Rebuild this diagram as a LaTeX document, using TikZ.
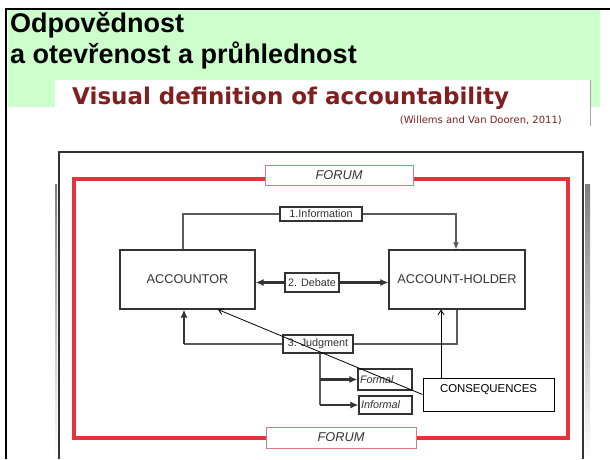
\documentclass[tikz,border=0pt]{standalone}
\usepackage{fontspec}
\setmainfont{Liberation Sans}
\newfontfamily\verd{DejaVu Sans}
\usetikzlibrary{arrows.meta}
\definecolor{slidegreen}{HTML}{CCFFCC}
\definecolor{titlered}{HTML}{7F1F1F}
\definecolor{forumred}{HTML}{E5323B}
\definecolor{pinkline}{HTML}{D77A82}
\definecolor{figgray}{HTML}{333333}
\definecolor{shade}{HTML}{E2E2E2}
\tikzset{
  fbox/.style={draw=figgray, line width=1.1pt, fill=white, inner sep=0pt, text=figgray,
    font=\fontsize{10.8}{12}\selectfont},
  actor/.style={fbox, font=\fontsize{12.7}{14}\selectfont},
  kind/.style={fbox, inner sep=2pt, align=left, font=\fontsize{10.8}{12}\selectfont\itshape},
  forumbox/.style={draw=pinkline, line width=0.9pt, fill=white, inner sep=0pt, text=figgray,
    font=\fontsize{12.8}{14}\selectfont\itshape},
  link/.style={draw=figgray!80, line width=1.1pt},
  heavylink/.style={draw=figgray, line width=2.2pt},
  fat/.style={-{Latex[length=8pt,width=7pt]}},
  slim/.style={-{Latex[length=7pt,width=6pt]}},
  barb/.style={-{Straight Barb[length=4.5pt,width=6pt]}},
  heading/.style={anchor=base west, inner sep=0pt, font=\fontsize{27}{32}\selectfont\bfseries},
}
\begin{document}
\begin{tikzpicture}[x=1pt,y=-1pt]
\useasboundingbox (0,0) rectangle (610,459);
\fill[white] (0,0) rectangle (610,459);
% slide frame
\fill[slidegreen] (8,10) rectangle (600,107);
\draw[black, line width=2pt] (6,459) -- (6,9) -- (610,9);
\fill[white] (55,80) rectangle (590,126);
\draw[gray!70, line width=0.8pt] (590,80) -- (590,126);
\node[heading] (h1) at (10,32) {Odpovědnost};
\node[heading] (h2) at (10,63) {a otevřenost a průhlednost};
\node[anchor=base west, inner sep=0pt, text=titlered, font=\verd\bfseries\fontsize{23}{26}\selectfont] (title) at (72,104) {Visual definition of accountability};
\node[anchor=base east, inner sep=0pt, text=titlered, font=\verd\fontsize{10}{12}\selectfont] (cite) at (562,123) {(Willems and Van Dooren, 2011)};
% figure frame
\fill[shade] (585,184) rectangle (590,459);
\fill[shade] (55,184) rectangle (57,459);
\draw[figgray, line width=1.5pt] (59,459) -- (59,152) -- (583,152) -- (583,459);
\draw[forumred, line width=4.5pt] (74,179) rectangle (568,438);
\node[forumbox, minimum width=148, minimum height=20] (ftop) at (339,175) {FORUM};
\node[forumbox, minimum width=150, minimum height=21] (fbot) at (341,437.5) {FORUM};
% actors
\node[actor, minimum width=135, minimum height=59] (acc) at (187.5,279.5) {ACCOUNTOR};
\node[actor, minimum width=136, minimum height=59] (hold) at (457,279.5) {ACCOUNT-HOLDER};
\node[fbox, minimum width=82, minimum height=14] (info) at (321,214) {1.Information};
\node[fbox, minimum width=54, minimum height=19] (deb) at (312,282.5) {2. Debate};
\node[fbox, minimum width=70, minimum height=18] (jud) at (318,344) {3. Judgment};
\node[kind, text width=50, minimum height=21] (form) at (385,379.5) {Formal};
\node[kind, text width=49, minimum height=18] (inf) at (385.5,405) {Informal};
\node[draw=black, line width=1pt, fill=white, minimum width=131, minimum height=33, inner sep=0pt,
  text height=9, text depth=13, font=\fontsize{11.4}{13}\selectfont] (cons) at (488.5,394.5) {CONSEQUENCES};
% 1. information
\coordinate (accn) at ([xshift=-4.5]acc.north);
\draw[link] (accn) |- (info.west);
\draw[link, line width=1.4pt, slim] (info.east) -| ([xshift=-1]hold.north);
% 2. debate
\draw[heavylink, fat] (deb.west) -- (deb.west -| acc.east);
\draw[heavylink, fat] (deb.east) -- (deb.east -| hold.west);
% 3. judgment
\draw[link] (hold.south) |- (jud.east);
\coordinate (accs) at ([xshift=-3.5]acc.south);
\draw[link] (jud.west) -- (accs |- jud.west);
\draw[heavylink, fat] (accs |- jud.west) -- (accs);
\coordinate (jb) at ([xshift=2]jud.south);
\draw[link] (jb) -- (jb |- inf.west);
\draw[heavylink, fat] (jb |- form.west) -- (form.west);
\draw[heavylink, fat] (jb |- inf.west) -- (inf.west);
% consequences
\draw[black, line width=0.8pt, barb] ([xshift=-47.5]cons.north) -- ([xshift=-16]hold.south);
\draw[black, line width=0.8pt, barb] (cons.west) -- ([xshift=30.5]acc.south);
\end{tikzpicture}
\end{document}
